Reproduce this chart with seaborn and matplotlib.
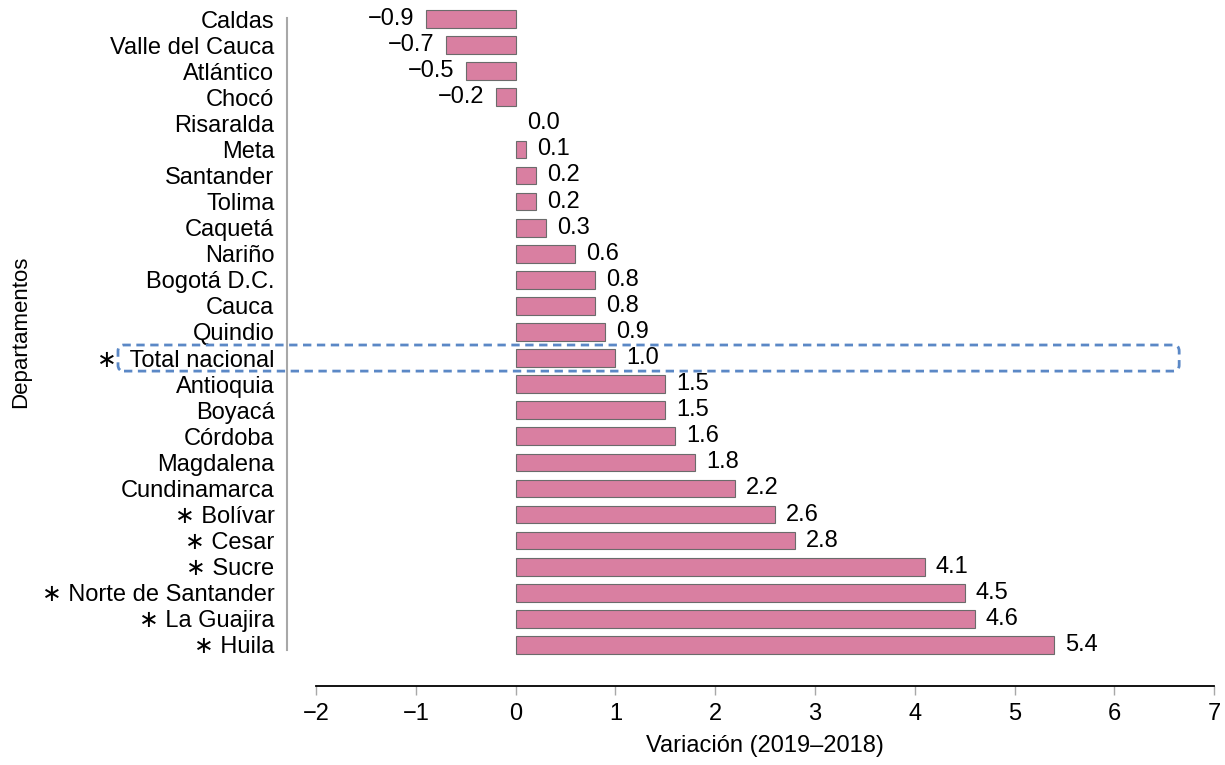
# Variación por departamento (2019-2018)
import matplotlib
matplotlib.use('Agg')
import matplotlib.pyplot as plt
import seaborn as sns
from matplotlib.patches import FancyBboxPatch
from matplotlib.transforms import IdentityTransform

departamentos = ['Caldas', 'Valle del Cauca', 'Atlántico', 'Chocó', 'Risaralda', 'Meta',
                 'Santander', 'Tolima', 'Caquetá', 'Nariño', 'Bogotá D.C.', 'Cauca',
                 'Quindio', 'Total nacional', 'Antioquia', 'Boyacá', 'Córdoba', 'Magdalena',
                 'Cundinamarca', 'Bolívar', 'Cesar', 'Sucre', 'Norte de Santander',
                 'La Guajira', 'Huila']
variacion = [-0.9, -0.7, -0.5, -0.2, 0.0, 0.1, 0.2, 0.2, 0.3, 0.6, 0.8, 0.8, 0.9, 1.0,
             1.5, 1.5, 1.6, 1.8, 2.2, 2.6, 2.8, 4.1, 4.5, 4.6, 5.4]
marcados = ['Total nacional', 'Bolívar', 'Cesar', 'Sucre', 'Norte de Santander',
            'La Guajira', 'Huila']
xticks = [-2, -1, 0, 1, 2, 3, 4, 5, 6, 7]

etiquetas = []
for d in departamentos:
    if d == 'Total nacional':
        etiquetas.append('\u2217  ' + d)
    elif d in marcados:
        etiquetas.append('\u2217 ' + d)
    else:
        etiquetas.append(d)

sns.set_theme(style='white')
plt.rcParams['font.family'] = ['Liberation Sans', 'DejaVu Sans']

fig = plt.figure(figsize=(12.25, 7.65), dpi=100)
ax = fig.add_axes([0.258, 0.1399, 0.7331, 0.8523])

sns.barplot(x=variacion, y=etiquetas, orient='h', color='#D97FA1', saturation=1,
            edgecolor='#6b6b6b', linewidth=0.8, width=0.68, ax=ax)

# sin borde para barras de valor cero
for barra, v in zip(ax.containers[0], variacion):
    if v == 0:
        barra.set_linewidth(0)

ax.set_xlim(-2, 7)
ax.set_ylim(24.5, -0.5)
ax.set_xticks(xticks)

textos = [f'{v:.1f}'.replace('-', '\u2212') for v in variacion]
ax.bar_label(ax.containers[0], labels=textos, padding=8, fontsize=17, color='black')

# ejes
sns.despine(ax=ax)
ax.spines['left'].set_position(('outward', 21))
ax.spines['left'].set_bounds(-0.04, 24.2)
ax.spines['left'].set_color('#a8a8a8')
ax.spines['left'].set_linewidth(1.5)
ax.spines['bottom'].set_position(('outward', 20))
ax.spines['bottom'].set_color('black')
ax.spines['bottom'].set_linewidth(1.3)

ax.tick_params(axis='y', length=0, pad=9, labelsize=17, labelcolor='black')
ax.tick_params(axis='x', length=6.5, width=1, color='#a8a8a8', direction='out',
               pad=6, labelsize=17, labelcolor='black', bottom=True)

ax.set_xlabel('Variación (2019\u20132018)', fontsize=17, color='black')
ax.set_ylabel('Departamentos', fontsize=16, color='black')
ax.xaxis.set_label_coords(0.5, -0.118)
ax.yaxis.set_label_coords(-0.317, 0.5)

# recuadro para el total nacional
i = departamentos.index('Total nacional')
x0 = 118
_, y_top = ax.transData.transform((0, i - 0.5))
x1, y_bot = ax.transData.transform((6.65, i + 0.5))
caja = FancyBboxPatch((x0, y_bot), x1 - x0, y_top - y_bot,
                      boxstyle='round,pad=0,rounding_size=6',
                      transform=IdentityTransform(), fill=False,
                      edgecolor='#5B88C6', linewidth=2, linestyle=(0, (3, 2)))
fig.add_artist(caja)

fig.savefig('out.png', dpi=100)
